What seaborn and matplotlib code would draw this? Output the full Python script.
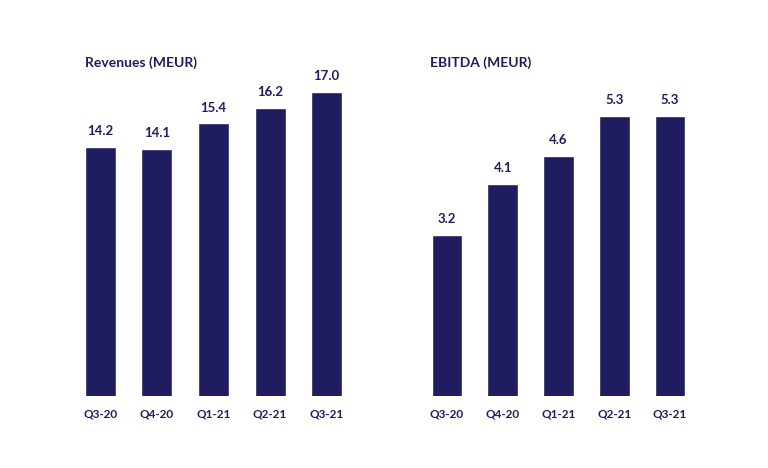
import matplotlib
matplotlib.use("Agg")
import matplotlib.pyplot as plt
import pandas as pd
import seaborn as sns

quarters = ["Q3-20", "Q4-20", "Q1-21", "Q2-21", "Q3-21"]
revenues = [14.2, 14.1, 15.4, 16.2, 17.0]
ebitda = [3.2, 4.1, 4.6, 5.3, 5.3]

navy = "#1f1d5f"

sns.set_style("white")
plt.rcParams['font.family'] = ['Lato', 'DejaVu Sans']

fig = plt.figure(figsize=(7.68, 4.68), dpi=100)
W, H = 768, 468


def panel(left_px, right_px, values, ymin, ymax, title, title_x):
    ax = fig.add_axes([left_px / W, 1 - 396 / H,
                       (right_px - left_px) / W, (396 - 60) / H])
    df = pd.DataFrame({"quarter": quarters, "value": values})
    sns.barplot(data=df, x="quarter", y="value", color=navy,
                saturation=1, width=0.55, ax=ax)
    ax.set_ylim(ymin, ymax)
    ax.set_xlim(-0.5, len(quarters) - 0.5)
    for i, v in enumerate(values):
        ax.annotate(f"{v:.1f}", (i, v), xytext=(0, 7), textcoords="offset points",
                    ha="center", va="bottom", fontsize=9.5, fontweight="bold",
                    color=navy)
    ax.set_xlabel("")
    ax.set_ylabel("")
    ax.set_yticks([])
    ax.tick_params(axis="x", length=0, pad=9, labelsize=8.5, labelcolor=navy)
    for lab in ax.get_xticklabels():
        lab.set_fontweight("bold")
    sns.despine(ax=ax, left=True, bottom=True)
    fig.text(title_x / W, 1 - 63 / H, title, fontsize=10, fontweight="bold",
             color=navy, ha="left", va="center")
    return ax


panel(72, 355, revenues, 1.52, 18.63, "Revenues (MEUR)", 85)
panel(419, 698, ebitda, 0.359, 6.29, "EBITDA (MEUR)", 430)

fig.savefig("out.png", dpi=100, facecolor="white")
